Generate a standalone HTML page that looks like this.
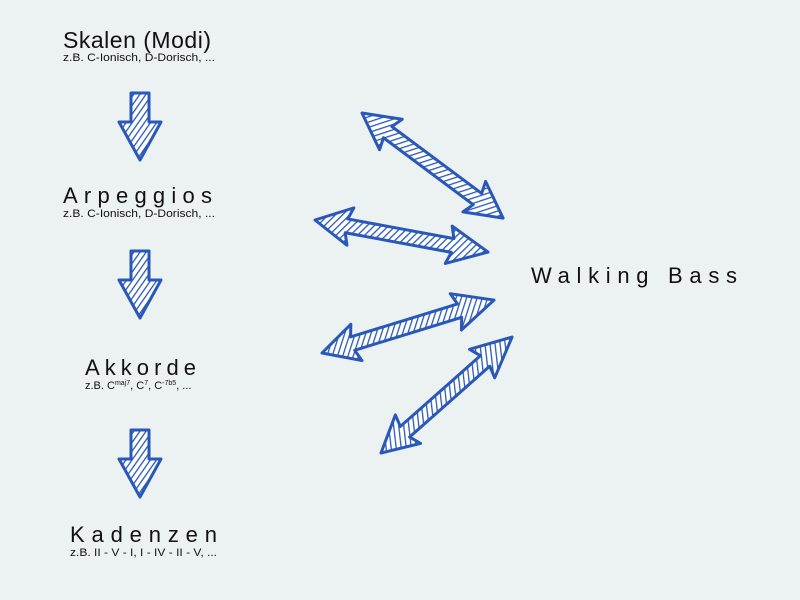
<!DOCTYPE html>
<html><head><meta charset="utf-8"><style>
html,body{margin:0;padding:0;background:#ecf1f1;}
svg{display:block;font-family:"Liberation Sans",Arial,sans-serif;}
</style></head><body>
<svg width="800" height="600" viewBox="0 0 800 600" xmlns="http://www.w3.org/2000/svg">
<defs>
<pattern id="h" width="5" height="5" patternUnits="userSpaceOnUse" patternTransform="rotate(35)">
<rect width="5" height="5" fill="#ffffff"/>
<line x1="0" y1="0" x2="0" y2="5" stroke="#2a58b8" stroke-width="2.6"/>
</pattern>
<g id="down">
<polygon points="-9,0 9,0 9,29 21,29 0,67 -21,29 -9,29" fill="url(#h)" stroke="#2a58b8" stroke-width="3" stroke-linejoin="round"/>
</g>
</defs>
<rect width="800" height="600" fill="#ecf1f1"/>

<text x="63" y="48" font-size="23" fill="#111" textLength="148" lengthAdjust="spacing">Skalen (Modi)</text>
<text x="63" y="61" font-size="11" fill="#111" textLength="152" lengthAdjust="spacingAndGlyphs">z.B. C-Ionisch, D-Dorisch, ...</text>
<use href="#down" x="140" y="93"/>

<text x="63" y="203" font-size="22" fill="#111" textLength="149" lengthAdjust="spacing">Arpeggios</text>
<text x="63" y="217" font-size="11" fill="#111" textLength="152" lengthAdjust="spacingAndGlyphs">z.B. C-Ionisch, D-Dorisch, ...</text>
<use href="#down" x="140" y="251"/>

<text x="85" y="375" font-size="22" fill="#111" textLength="111" lengthAdjust="spacing">Akkorde</text>
<text x="85" y="389" font-size="11" fill="#111">z.B. C<tspan font-size="7" dy="-4">maj7</tspan><tspan dy="4">, C</tspan><tspan font-size="7" dy="-4">7</tspan><tspan dy="4">, C</tspan><tspan font-size="7" dy="-4">-7b5</tspan><tspan dy="4">, ...</tspan></text>
<use href="#down" x="140" y="430"/>

<text x="70" y="542" font-size="22" fill="#111" textLength="147" lengthAdjust="spacing">Kadenzen</text>
<text x="70" y="556" font-size="11" fill="#111" textLength="147" lengthAdjust="spacingAndGlyphs">z.B. II - V - I, I - IV - II - V, ...</text>

<text x="531" y="283" font-size="22" fill="#111" textLength="206" lengthAdjust="spacing">Walking Bass</text>

<g fill="url(#h)" stroke="#2a58b8" stroke-width="3" stroke-linejoin="round">
<g transform="translate(362,113) rotate(36.7)">
<polygon points="0,0 36,-19 32,-7 144,-7 140,-19 176,0 140,19 144,7 32,7 36,19"/>
</g>
<g transform="translate(315,220) rotate(10.5)">
<polygon points="0,0 36,-19 32,-7 140,-7 136,-19 176,0 136,19 140,7 32,7 36,19"/>
</g>
<g transform="translate(322,353) rotate(-17.1)">
<polygon points="0,0 36,-19 32,-7 144,-7 140,-19 180,0 140,19 144,7 32,7 36,19"/>
</g>
<g transform="translate(381,453) rotate(-41.5)">
<polygon points="0,0 36,-19 32,-7 139,-7 135,-19 175,0 135,19 139,7 32,7 36,19"/>
</g>
</g>
</svg>
</body></html>
